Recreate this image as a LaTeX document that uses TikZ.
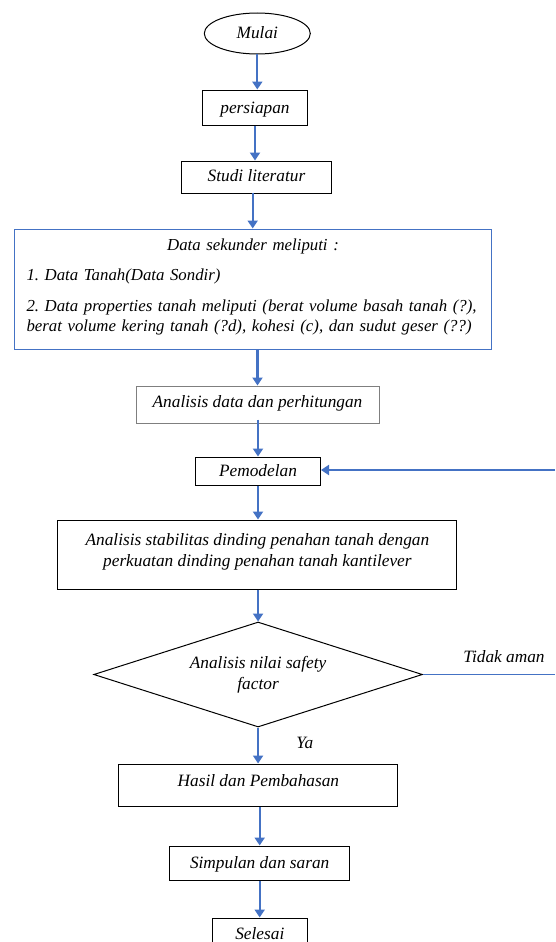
\documentclass[tikz,border=0pt]{standalone}
\usepackage{fontspec}
\setmainfont{Liberation Serif}
\usetikzlibrary{shapes.geometric,arrows.meta}
\definecolor{flowblue}{HTML}{4472C4}
\definecolor{boxgray}{HTML}{7F7F7F}
\begin{document}
\begin{tikzpicture}[x=1pt,y=-1pt,
  txt/.style={font=\itshape\fontsize{17.3}{20.5}\selectfont},
  box/.style={txt, draw=black, line width=1pt, rectangle, inner sep=0pt},
  flow/.style={draw=flowblue, line width=2.3pt, -{Triangle[length=8pt,width=10pt]}},
  thinline/.style={draw=flowblue, line width=0.9pt},
]
\useasboundingbox (0,0) rectangle (555,942);
\frenchspacing

\node[txt, ellipse, draw=black, line width=1pt, minimum width=106pt, minimum height=41pt, inner sep=0pt, text height=12pt, text depth=1.6pt] (mulai) at (257.3,33.5) {Mulai};
\node[box, minimum width=105pt, minimum height=35pt, text height=12pt, text depth=1pt] (persiapan) at (255,107.5) {persiapan};
\node[box, minimum width=150pt, minimum height=32pt, text height=12pt, text depth=3pt] (studi) at (256.5,177) {Studi literatur};
\node[box, draw=flowblue, font=\itshape\fontsize{16.8}{20.5}\selectfont, minimum width=477pt, minimum height=120pt, text width=453pt, inner xsep=12pt, align=left] (data) at (253,289)
 {\makebox[453pt][c]{Data sekunder meliputi :}\\[10pt]
  1. Data Tanah(Data Sondir)\\[10pt]
  2. Data properties tanah meliputi (berat volume basah tanah (?),\\
  berat volume kering tanah (?d), kohesi (c), dan sudut geser (??)\\[-19pt]\strut};
\node[box, draw=boxgray, minimum width=243pt, minimum height=37pt, text height=12pt, text depth=7pt] (analisis) at (257.5,404.5) {Analisis data dan perhitungan};
\node[box, minimum width=125pt, minimum height=28pt] (model) at (258,471) {Pemodelan};
\node[box, minimum width=399pt, minimum height=69pt, align=center] (stab) at (257.4,554.5)
 {Analisis stabilitas dinding penahan tanah dengan\\ perkuatan dinding penahan tanah kantilever\\[-18pt]\strut};
\node[txt, diamond, draw=black, line width=1pt, aspect=3.13, minimum width=328.7pt, minimum height=105pt, inner sep=0pt, align=center] (sf) at (258.1,674.5)
 {Analisis nilai safety\\ factor};
\node[box, minimum width=279pt, minimum height=42pt, text height=12pt, text depth=9pt] (hasil) at (258.4,785) {Hasil dan Pembahasan};
\node[box, minimum width=180pt, minimum height=34pt, text height=12pt, text depth=2pt] (simpulan) at (259.7,863) {Simpulan dan saran};
\node[box, minimum width=95pt, minimum height=32pt, text height=12pt, text depth=1pt] (selesai) at (259.8,934) {Selesai};

\node[txt] (tidak) at (504,657) {Tidak aman};
\node[txt] (ya) at (304.8,742.5) {Ya};

\coordinate (rtop) at (555,470);
\coordinate (rbot) at (555,674.5);

\draw[flow] (mulai.south) -- (mulai.south |- persiapan.north);
\draw[flow] (persiapan.south) -- (persiapan.south |- studi.north);
\draw[flow] (data.north -| 252.7,0) ++(0,-36) -- (data.north -| 252.7,0);
\draw[flow] (data.south -| analisis.north) -- (analisis.north);
\draw[flow] (analisis.south -| model.north) ++(0,-4) -- (model.north);
\draw[flow] (model.south) -- (model.south |- stab.north);
\draw[flow] (stab.south -| sf.north) -- (sf.north);
\draw[flow] (sf.south) -- (sf.south |- hasil.north);
\draw[flow] (hasil.south -| simpulan.north) -- (simpulan.north);
\draw[flow] (simpulan.south) -- (simpulan.south |- selesai.north);
\draw[thinline] (sf.east) -- (rbot);
\draw[flow] (rtop) -- (rtop -| model.east);
\end{tikzpicture}
\end{document}
